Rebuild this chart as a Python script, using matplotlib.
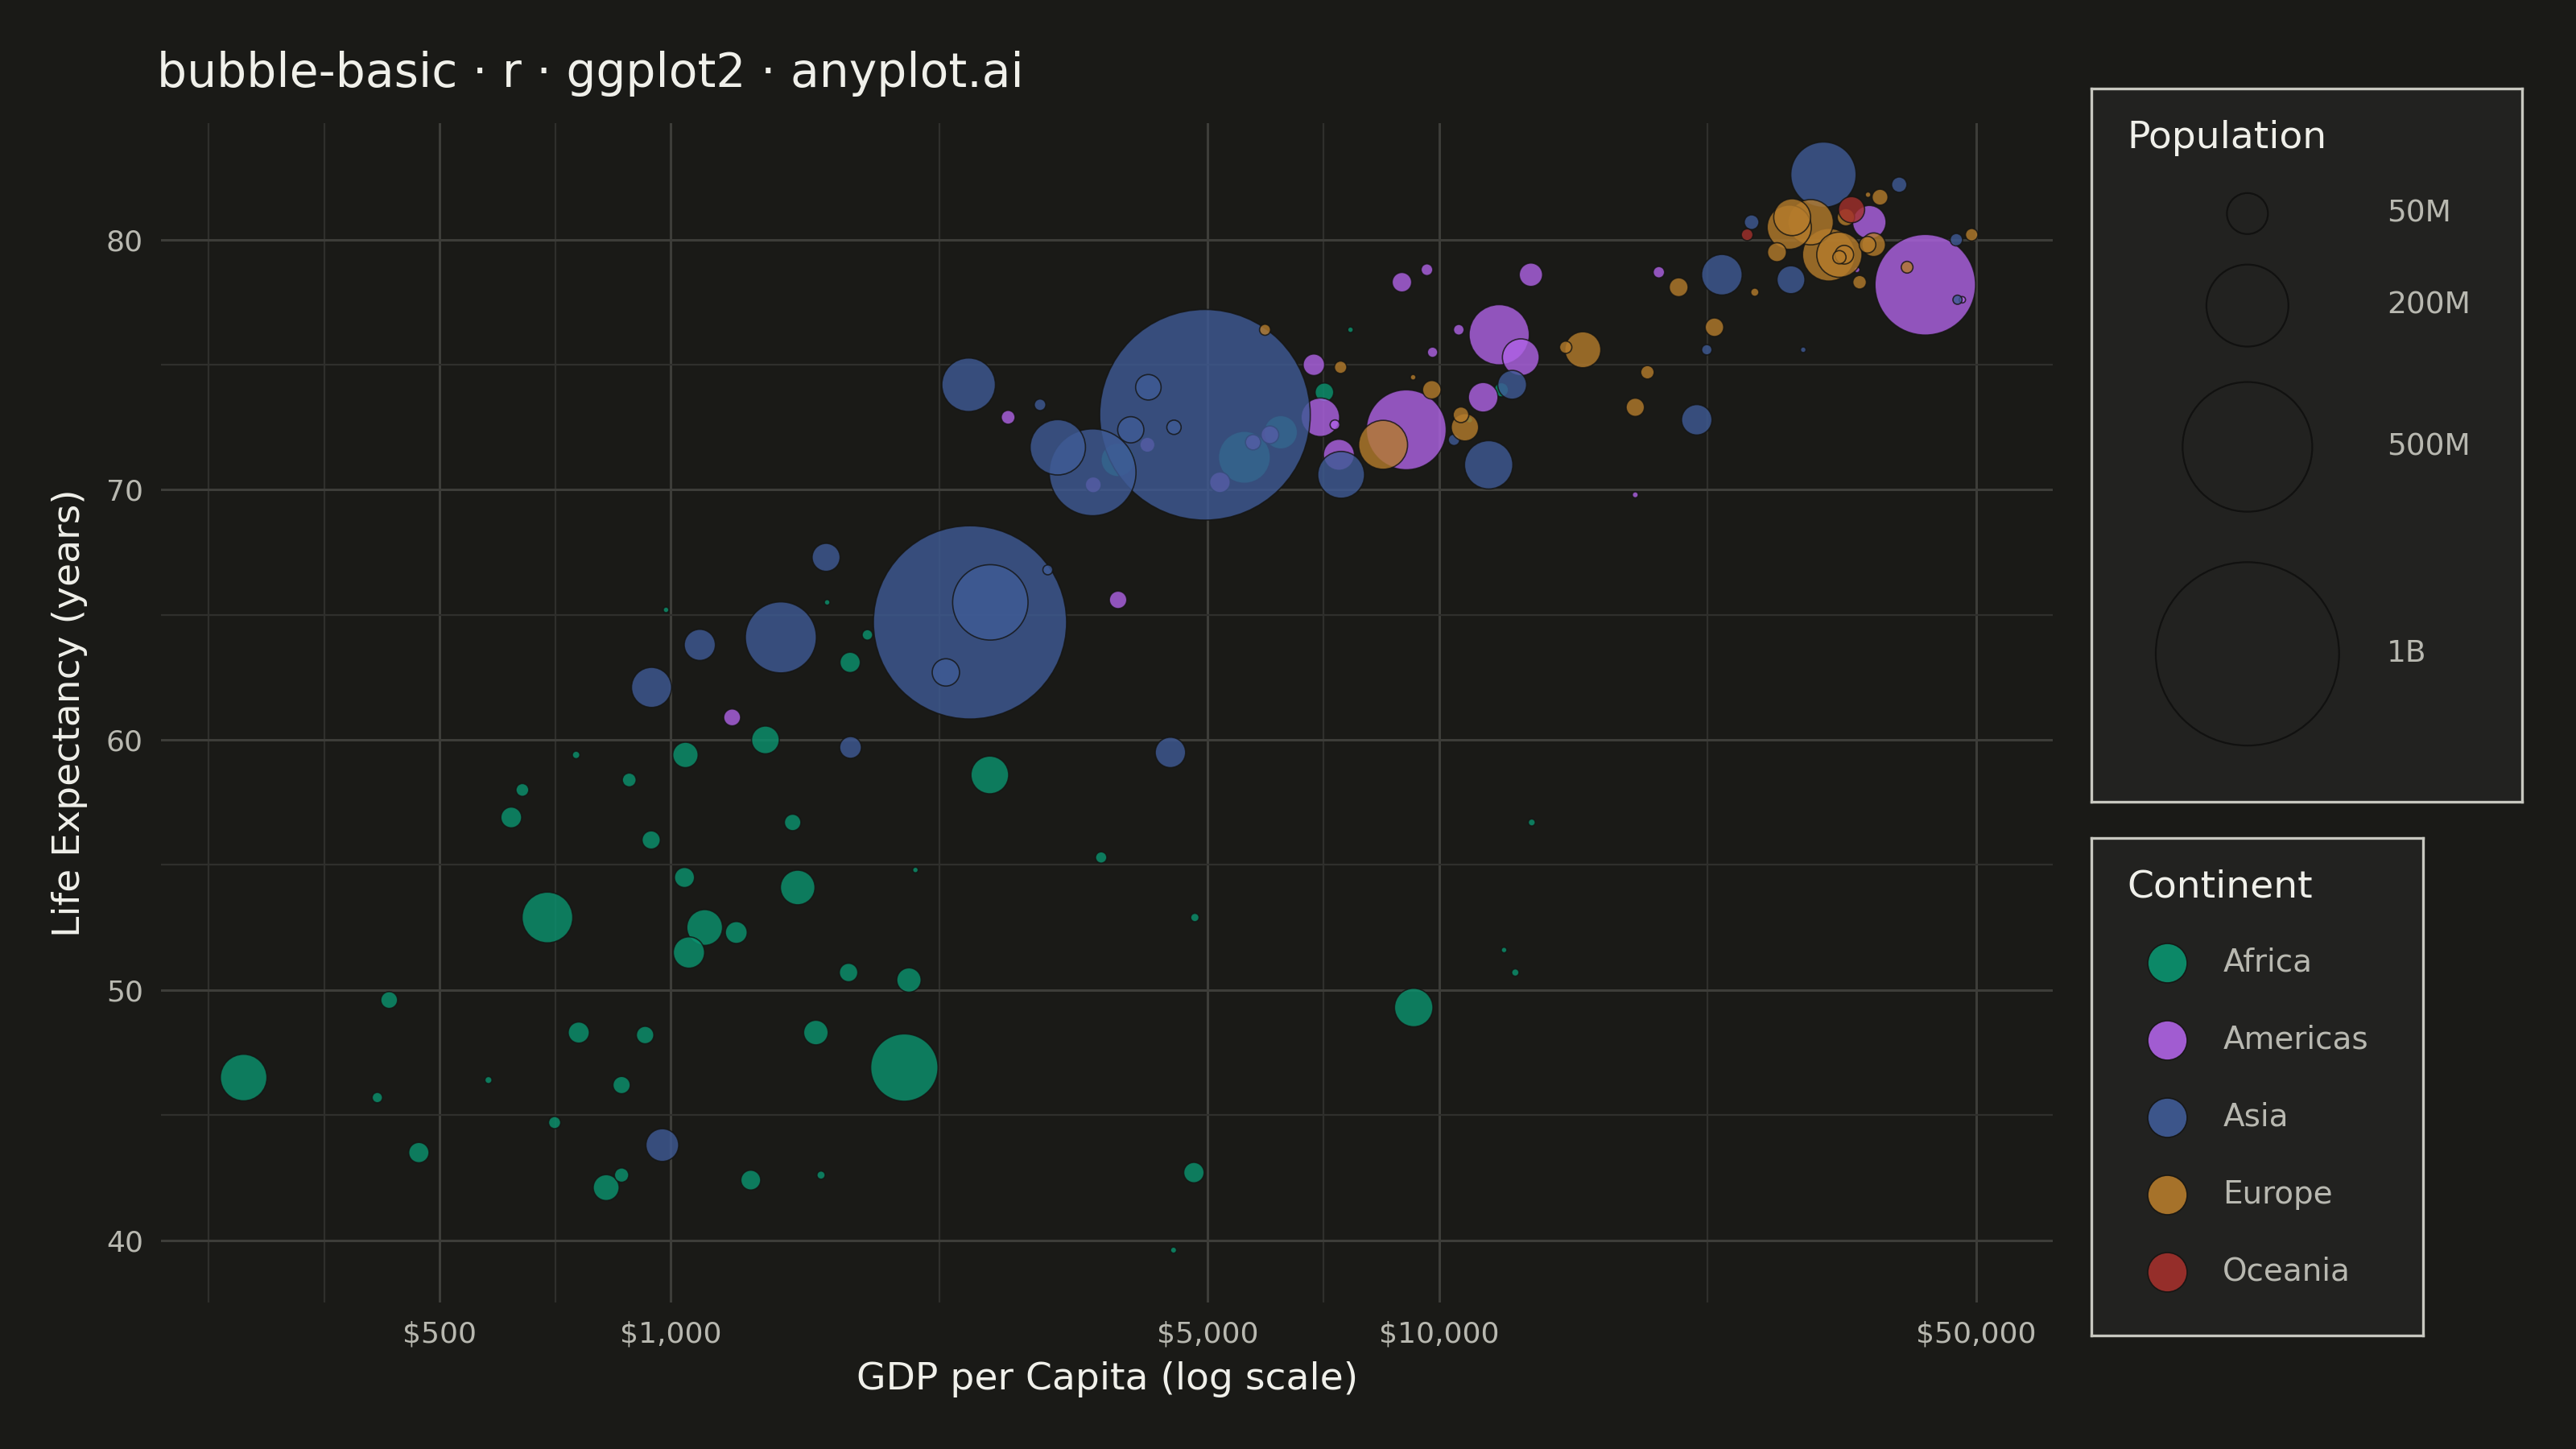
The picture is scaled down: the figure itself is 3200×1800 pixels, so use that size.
import numpy as np
import matplotlib
matplotlib.use("Agg")
import matplotlib.pyplot as plt
from matplotlib.ticker import FixedLocator, NullFormatter

# gapminder-style 2007 values: (gdp per capita, life expectancy, population in millions)
africa = [(6223, 72.3, 33.3), (4797, 42.7, 12.4), (1441, 56.7, 8.1), (12570, 50.7, 1.6),
          (1217, 52.3, 14.3), (430, 49.6, 8.4), (2042, 50.4, 17.7), (706, 44.7, 4.4),
          (1704, 50.7, 10.2), (986, 65.2, 0.7), (278, 46.5, 64.6), (3633, 55.3, 3.8),
          (1545, 48.3, 18.0), (2082, 54.8, 0.5), (5581, 71.3, 80.3), (12154, 51.6, 0.55),
          (641, 58.0, 4.9), (691, 52.9, 76.5), (13206, 56.7, 1.45), (753, 59.4, 1.7),
          (1328, 60.0, 22.9), (943, 56.0, 9.9), (579, 46.4, 1.5), (1463, 54.1, 35.6),
          (1569, 42.6, 2.0), (415, 45.7, 3.2), (12057, 74.0, 6.0), (1045, 59.4, 19.2),
          (759, 48.3, 13.3), (1042, 54.5, 12.0), (1803, 64.2, 3.3), (10957, 72.8, 1.25),
          (3820, 71.2, 33.8), (824, 42.1, 20.0), (4811, 52.9, 2.1), (620, 56.9, 12.9),
          (2014, 46.9, 135.0), (7670, 76.4, 0.8), (863, 46.2, 8.9), (1598, 65.5, 0.2),
          (1712, 63.1, 12.3), (863, 42.6, 6.1), (926, 48.2, 9.1), (9270, 49.3, 44.0),
          (2602, 58.6, 42.3), (4513, 39.6, 1.1), (1107, 52.5, 38.1), (883, 58.4, 5.7),
          (7093, 73.9, 10.3), (1056, 51.5, 29.2), (1271, 42.4, 11.7), (470, 43.5, 12.3)]
americas = [(12779, 75.3, 40.3), (3822, 65.6, 9.1), (9066, 72.4, 190.0), (36319, 80.7, 33.4),
            (13172, 78.6, 16.3), (7007, 72.9, 44.2), (9645, 78.8, 4.1), (8948, 78.3, 11.4),
            (6025, 72.2, 9.3), (6873, 75.0, 13.8), (5728, 71.9, 6.9), (5186, 70.3, 12.6),
            (1202, 60.9, 8.5), (3548, 70.2, 7.5), (7321, 72.6, 2.8), (11978, 76.2, 108.0),
            (2749, 72.9, 5.7), (9809, 75.5, 3.2), (4173, 71.8, 6.7), (7409, 71.4, 28.7),
            (19329, 78.7, 3.9), (18009, 69.8, 1.06), (42952, 78.2, 301.0), (10611, 76.4, 3.4),
            (11416, 73.7, 26.1), (35000, 78.8, 1.0), (48000, 77.6, 1.2)]
asia = [(975, 43.8, 31.9), (29796, 75.6, 0.7), (1391, 64.1, 150.0), (1714, 59.7, 14.1),
        (4959, 73.0, 1319.0), (39725, 82.2, 6.98), (2452, 64.7, 1110.0), (3541, 70.7, 224.0),
        (11606, 71.0, 69.5), (4471, 59.5, 27.5), (25523, 80.7, 6.4), (31656, 82.6, 127.0),
        (4519, 72.5, 6.1), (1593, 67.3, 23.3), (23348, 78.6, 49.0), (47307, 77.6, 2.5),
        (10461, 72.0, 3.9), (12452, 74.2, 24.8), (3096, 66.8, 2.9), (944, 62.1, 47.8),
        (1091, 63.8, 28.9), (22316, 75.6, 3.2), (2606, 65.5, 169.0), (3190, 71.7, 91.1),
        (21655, 72.8, 27.6), (47143, 80.0, 4.6), (3970, 72.4, 20.4), (4185, 74.1, 19.3),
        (28718, 78.4, 23.2), (7458, 70.6, 65.1), (2442, 74.2, 85.3), (3025, 73.4, 4.0),
        (2281, 62.7, 22.2)]
europe = [(5937, 76.4, 3.6), (36126, 79.8, 8.2), (33693, 79.4, 10.4), (7446, 74.9, 4.6),
          (10681, 73.0, 7.3), (14619, 75.7, 4.5), (22833, 76.5, 10.2), (35278, 78.3, 5.5),
          (33207, 79.3, 5.2), (30470, 80.7, 61.1), (32170, 79.4, 82.4), (27538, 79.5, 10.7),
          (18009, 73.3, 9.96), (36181, 81.8, 0.3), (40676, 78.9, 4.1), (28570, 80.5, 58.1),
          (9254, 74.5, 0.68), (36798, 79.8, 16.6), (49357, 80.2, 4.6), (15390, 75.6, 38.5),
          (20510, 78.1, 10.6), (10808, 72.5, 22.3), (9787, 74.0, 10.2), (18678, 74.7, 5.4),
          (25768, 77.9, 2.0), (28821, 80.9, 40.4), (33860, 80.9, 9.0), (37506, 81.7, 7.55),
          (8458, 71.8, 71.2), (33203, 79.4, 60.8)]
oceania = [(34435, 81.2, 20.4), (25185, 80.2, 4.1)]

continents = ["Africa", "Americas", "Asia", "Europe", "Oceania"]
series = [africa, americas, asia, europe, oceania]
colors = ["#0a9470", "#b063e6", "#3f5b96", "#b57c2c", "#a3302c"]
pop_breaks = [50, 200, 500, 1000]
pop_labels = ["50M", "200M", "500M", "1B"]

BG = "#1a1a17"
BOX = "#222220"
TXT = "#f0f0ea"
SUB = "#b8b8b0"


def size(pop_m):
    d = 82 * np.sqrt(pop_m / 1000.0)
    return np.maximum(d, 2.5) ** 2


fig = plt.figure(figsize=(16, 9), dpi=200, facecolor=BG)
ax = fig.add_axes([0.0625, 0.101, 0.7345, 0.814], facecolor=BG)

for name, data, c in zip(continents, series, colors):
    arr = np.array(data)
    order = np.argsort(-arr[:, 2])
    arr = arr[order]
    ax.scatter(arr[:, 0], arr[:, 1], s=size(arr[:, 2]), color=c, alpha=0.8,
               edgecolor="#141412", linewidth=0.6, zorder=3)

ax.set_xscale("log")
ax.set_xlim(217, 63000)
ax.set_ylim(37.5, 84.66)
ax.xaxis.set_major_locator(FixedLocator([500, 1000, 5000, 10000, 50000]))
ax.xaxis.set_major_formatter(matplotlib.ticker.FixedFormatter(["$500", "$1,000", "$5,000", "$10,000", "$50,000"]))
ax.xaxis.set_minor_locator(FixedLocator([250, 354, 707, 2236, 7071, 22360]))
ax.xaxis.set_minor_formatter(NullFormatter())
ax.set_yticks([40, 50, 60, 70, 80])
ax.yaxis.set_minor_locator(FixedLocator([45, 55, 65, 75]))
ax.grid(True, which="major", color="#3d3d39", linewidth=1.1, zorder=0)
ax.grid(True, which="minor", color="#2f2f2c", linewidth=0.8, zorder=0)
for s in ax.spines.values():
    s.set_visible(False)
ax.tick_params(which="both", length=0, colors=SUB, labelsize=13, pad=8)
ax.set_xlabel("GDP per Capita (log scale)", color=TXT, fontsize=17, labelpad=6)
ax.set_ylabel("Life Expectancy (years)", color=TXT, fontsize=17, labelpad=8)
fig.text(0.061, 0.949, "bubble-basic · r · ggplot2 · anyplot.ai", color=TXT,
         fontsize=21, va="center")

# population legend
lg1 = fig.add_axes([1273 / 1568, 1 - 488 / 882, 262 / 1568, 434 / 882], facecolor=BOX)
lg1.set_xlim(0, 1); lg1.set_ylim(0, 1)
lg1.set_xticks([]); lg1.set_yticks([])
for s in lg1.spines.values():
    s.set_color("#c8c8c0"); s.set_linewidth(1.2)
lg1.text(22 / 262, 1 - 30 / 434, "Population", color=TXT, fontsize=17, va="center")
ys = [130, 186, 272, 398]
for p, lab, yy in zip(pop_breaks, pop_labels, ys):
    yv = 1 - (yy - 54) / 434
    lg1.scatter([95 / 262], [yv], s=size(p), facecolor="none", edgecolor="#111110",
                linewidth=0.8)
    lg1.text(180 / 262, yv, lab, color=SUB, fontsize=13.5, va="center")

# continent legend
lg2 = fig.add_axes([1273 / 1568, 1 - 813 / 882, 202 / 1568, 303 / 882], facecolor=BOX)
lg2.set_xlim(0, 1); lg2.set_ylim(0, 1)
lg2.set_xticks([]); lg2.set_yticks([])
for s in lg2.spines.values():
    s.set_color("#c8c8c0"); s.set_linewidth(1.2)
lg2.text(22 / 202, 1 - 30 / 303, "Continent", color=TXT, fontsize=17, va="center")
for i, (name, c) in enumerate(zip(continents, colors)):
    yv = 1 - (76 + 47 * i) / 303
    lg2.scatter([46 / 202], [yv], s=310, color=c, alpha=0.9, edgecolor="#141412",
                linewidth=0.6)
    lg2.text(80 / 202, yv, name, color=SUB, fontsize=14, va="center")

fig.savefig("out.png", dpi=200, facecolor=BG)
